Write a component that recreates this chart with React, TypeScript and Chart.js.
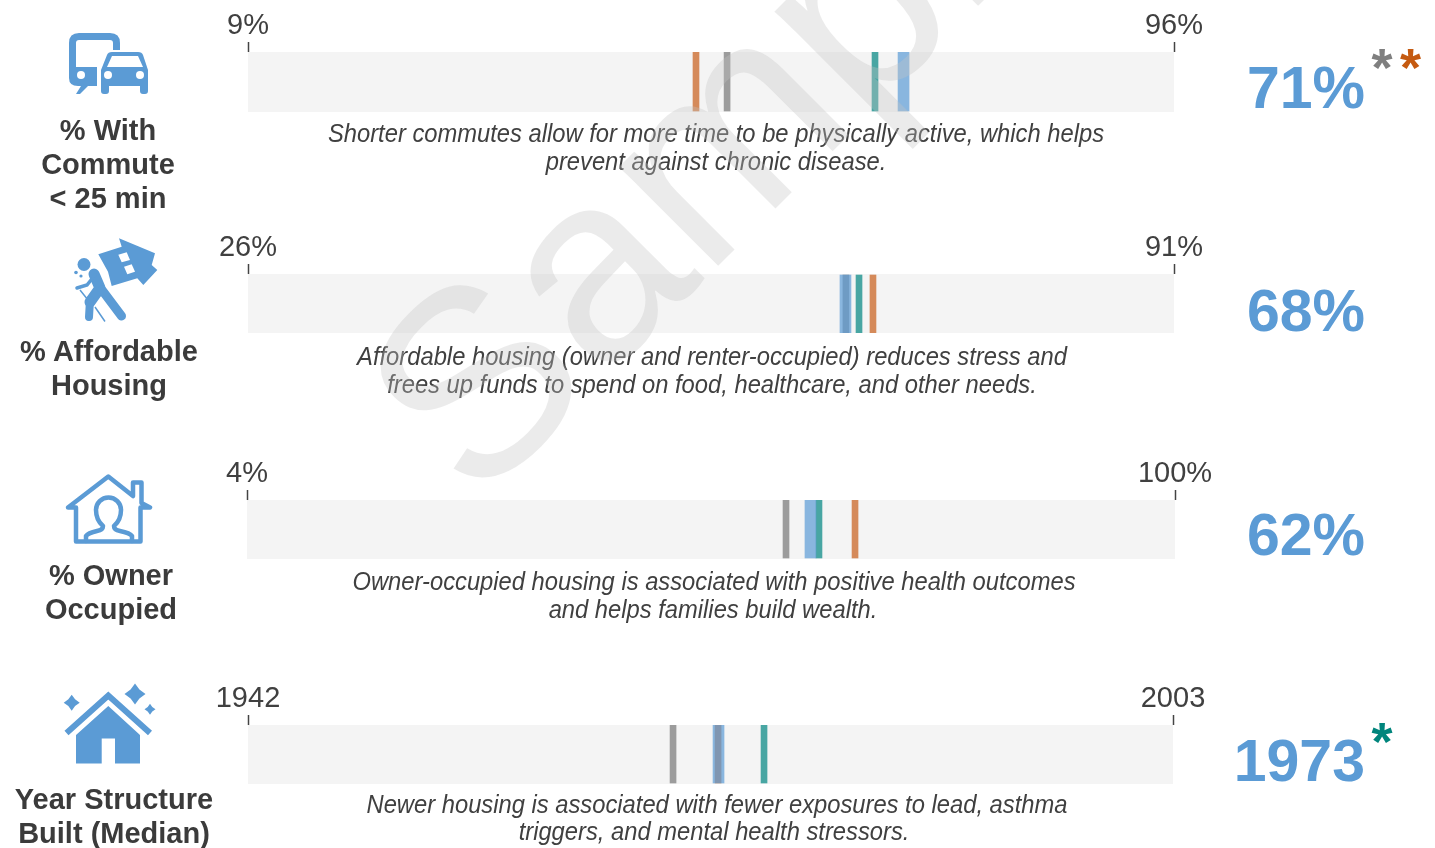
import React, { useEffect, useRef } from "react";
import { Chart, registerables } from "chart.js";

Chart.register(...registerables);

const rangeMins = [9, 26, 4, 1942];
const rangeMaxes = [96, 91, 100, 2003];
const minLabels = ["9%", "26%", "4%", "1942"];
const maxLabels = ["96%", "91%", "100%", "2003"];
const blueMarks = [70.59, 67.94, 62.29, 1973.03];
const tealMarks = [67.91, 68.89, 63.17, 1976.03];
const grayMarks = [54.01, 67.97, 59.76, 1970.03];
const orangeMarks = [51.09, 69.87, 66.9, 1973];
const bigValues = ["71%", "68%", "62%", "1973"];
const headings = [["% With", "Commute", "< 25 min"], ["% Affordable", "Housing"], ["% Owner", "Occupied"], ["Year Structure", "Built (Median)"]];
const notes = [
  ["Shorter commutes allow for more time to be physically active, which helps", "prevent against chronic disease."],
  ["Affordable housing (owner and renter-occupied) reduces stress and", "frees up funds to spend on food, healthcare, and other needs."],
  ["Owner-occupied housing is associated with positive health outcomes", "and helps families build wealth."],
  ["Newer housing is associated with fewer exposures to lead, asthma", "triggers, and mental health stressors."],
];
const markLow = [1 / 60, 0, 1 / 59, 1 / 59];
const markHigh = [1, 58 / 59, 1, 1];

const rowBoxes = [
  { left: 248, right: 1174, top: 52, bottom: 112 },
  { left: 248, right: 1174, top: 274, bottom: 333 },
  { left: 247, right: 1175, top: 500, bottom: 559 },
  { left: 248, right: 1173, top: 725, bottom: 784 },
];
const headingLayout = [
  { cx: 108, y: [130, 164, 198] },
  { cx: 109, y: [351, 385] },
  { cx: 111, y: [575, 609] },
  { cx: 114, y: [799, 833] },
];
const noteLayout = [
  { cx: [716, 715.5], y: [133, 161] },
  { cx: [712, 711.5], y: [356, 384] },
  { cx: [713.5, 712.5], y: [581, 609] },
  { cx: [716.5, 713.5], y: [804, 831] },
];
const bigBaseline = [108, 331, 555, 781];
const stars = [
  { x: 1382, y: 57.5, c: "#7f7f7f" },
  { x: 1410.5, y: 57.5, c: "#c55a11" },
  { x: 1382, y: 732, c: "#00857c" },
];

const HEADER = 52;
const BLUE = "#5b9bd5";

function Strip({ i }: { i: number }) {
  const ref = useRef<HTMLCanvasElement | null>(null);
  const b = rowBoxes[i];
  const h = b.bottom - b.top + HEADER;
  useEffect(() => {
    const lo = markLow[i];
    const hi = markHigh[i];
    const mark = (v: number, color: string, thick: number) => ({
      data: [{ x: v, y: [lo, hi] }],
      backgroundColor: color,
      barThickness: thick,
      grouped: false,
      borderWidth: 0,
    });
    const chart = new Chart(ref.current as HTMLCanvasElement, {
      type: "bar",
      data: {
        datasets: [
          mark(blueMarks[i], "rgba(91,155,213,0.7)", 11),
          mark(tealMarks[i], "#48a6a3", 6),
          mark(orangeMarks[i], "#d58a5a", 6),
          mark(grayMarks[i], "#9c9c9c", 6),
          {
            data: [{ x: (rangeMins[i] + rangeMaxes[i]) / 2, y: [0, 1] }],
            backgroundColor: "#f4f4f4",
            barThickness: b.right - b.left,
            grouped: false,
            borderWidth: 0,
          },
        ] as any,
      },
      options: {
        animation: false,
        responsive: false,
        events: [],
        layout: { padding: { left: b.left, right: 1435 - b.right, top: 0, bottom: 0 } },
        plugins: { legend: { display: false }, tooltip: { enabled: false } },
        scales: {
          x: {
            type: "linear",
            position: "top",
            min: rangeMins[i],
            max: rangeMaxes[i],
            offset: false,
            border: { display: false },
            grid: { offset: false, drawOnChartArea: false, drawTicks: true, tickLength: 10, tickColor: "#444444", tickWidth: 1.5 },
            afterBuildTicks: (s: any) => {
              s.ticks = [{ value: rangeMins[i] }, { value: rangeMaxes[i] }];
            },
            afterFit: (s: any) => {
              s.height = HEADER;
            },
            ticks: {
              autoSkip: false,
              maxRotation: 0,
              padding: -1,
              color: "#404040",
              font: { family: "'Liberation Sans'", size: 29 },
              callback: (v: any) => (v === rangeMins[i] ? minLabels[i] : maxLabels[i]),
            },
          },
          y: { type: "linear", display: false, min: 0, max: 1 },
        },
      } as any,
    });
    return () => chart.destroy();
  }, []);
  return (
    <canvas
      ref={ref}
      width={1435}
      height={h}
      style={{ position: "absolute", left: 0, top: b.top - HEADER, width: 1435, height: h, display: "block" }}
    />
  );
}

function sparkle(cx: number, cy: number, r: number) {
  const k = r * 0.42;
  return `M${cx} ${cy - r}L${cx + k} ${cy - k}L${cx + r} ${cy}L${cx + k} ${cy + k}L${cx} ${cy + r}L${cx - k} ${cy + k}L${cx - r} ${cy}L${cx - k} ${cy - k}Z`;
}

function Icons() {
  return (
    <svg width={1435} height={848} style={{ position: "absolute", left: 0, top: 0 }}>
      <g fill={BLUE}>
        <path d="M69 43Q69 33 79 33H110Q120 33 120 43V50H113V43Q113 40 110 40H79Q76 40 76 43V67H97V86H88L80 94H76L81 86H78Q69 86 69 78Z" />
        <circle cx={81} cy={75} r={4} fill="#fff" />
        <path d="M101 70L107 55Q108 52 112 52H138Q142 52 143 55L148 70V91Q148 94 145 94H143Q140 94 140 91V86H109V91Q109 94 106 94H104Q101 94 101 91Z" />
        <path d="M112 56H138L143 67H107Z" fill="#fff" />
        <circle cx={108} cy={75} r={4} fill="#fff" />
        <circle cx={140} cy={75} r={4} fill="#fff" />
      </g>
      <g fill={BLUE} stroke="none">
        <path d="M98.3 254.3L121.7 246.7L119 238.3L155 253.3L151.7 265L157.3 270L143.3 285L137.3 278.3L111.7 286L108 271.7Z" />
        <path d="M118.3 254.7L126.7 252.3L130 260L121.7 262.3Z" fill="#fff" />
        <path d="M124 266.7L131.7 264.3L135 271.7L127.3 274.3Z" fill="#fff" />
        <circle cx={84} cy={264.5} r={6.5} />
        <circle cx={76} cy={272.5} r={1.8} />
        <circle cx={81} cy={276} r={1.6} />
        <path d="M95 274L102 287" stroke="#fff" strokeWidth={15} strokeLinecap="round" />
        <path d="M94 274L100 288L90 302" stroke={BLUE} strokeWidth={11} strokeLinecap="round" strokeLinejoin="round" fill="none" />
        <path d="M102 290L121.5 316" stroke={BLUE} strokeWidth={9} strokeLinecap="round" fill="none" />
        <path d="M90 300L89 317" stroke={BLUE} strokeWidth={8} strokeLinecap="round" strokeLinejoin="round" fill="none" />
        <path d="M95 275L87 285L77 288" stroke={BLUE} strokeWidth={3.5} strokeLinecap="round" fill="none" />
        <path d="M80 290L88 300M95 307L105 321.5" stroke={BLUE} strokeWidth={1.5} fill="none" />
      </g>
      <g fill="none" stroke={BLUE} strokeWidth={4.5} strokeLinejoin="round" strokeLinecap="round">
        <path d="M68 507.5L108.3 476.5L133 496V482.5H141.5V503L150 507.5H140.5V541.5H76V507.5Z" />
        <path d="M86 541V536Q88 533 97 531Q103 530 103 526Q96 520 96 510A12.5 12.5 0 0 1 121 510Q121 520 114 526Q114 530 120 531Q130 533 132 536V541" />
      </g>
      <g fill={BLUE}>
        <path d="M66.5 733L108.3 695.5L150 733" fill="none" stroke={BLUE} strokeWidth={6} />
        <path d="M108.3 706L140 735V763.5H115V738.5H101.7V763.5H76V735Z" />
        <path d={sparkle(71.7, 702.7, 8)} />
        <path d={sparkle(135, 694, 10.5)} />
        <path d={sparkle(150, 709.3, 5.5)} />
      </g>
    </svg>
  );
}

const abs = (x: number, y: number): React.CSSProperties => ({
  position: "absolute",
  left: x,
  top: y,
  transform: "translate(-50%,-50%)",
  whiteSpace: "nowrap",
  lineHeight: 1,
});

export default function App() {
  useEffect(() => {
    document.body.style.margin = "0";
  }, []);
  return (
    <div style={{ position: "relative", width: 1435, height: 848, overflow: "hidden", fontFamily: "'Liberation Sans', Arial, sans-serif", background: "#fff" }}>
      {rowBoxes.map((_, i) => (
        <Strip key={i} i={i} />
      ))}
      <Icons />
      {headings.map((lines, i) =>
        lines.map((t, j) => (
          <div key={t} style={{ ...abs(headingLayout[i].cx, headingLayout[i].y[j]), fontSize: 29, fontWeight: 700, color: "#3b3b3b" }}>
            {t}
          </div>
        ))
      )}
      {notes.map((lines, i) =>
        lines.map((t, j) => (
          <div key={t} style={{ ...abs(noteLayout[i].cx[j], noteLayout[i].y[j]), transform: "translate(-50%,-50%) scaleX(0.95)", fontSize: 25, fontStyle: "italic", color: "#404040" }}>
            {t}
          </div>
        ))
      )}
      {bigValues.map((t, i) => (
        <div
          key={t}
          style={{ position: "absolute", right: 1435 - 1365, top: bigBaseline[i] - 54, fontSize: 59, lineHeight: "68px", fontWeight: 700, color: BLUE, whiteSpace: "nowrap" }}
        >
          {t}
        </div>
      ))}
      {stars.map((s, i) => (
        <div key={i} style={{ ...abs(s.x, s.y + 9), fontSize: 54, fontWeight: 700, color: s.c }}>
          *
        </div>
      ))}
      <div
        style={{
          position: "absolute",
          left: 476,
          top: 508,
          transformOrigin: "0 0",
          transform: "rotate(-45deg) translateY(-242px)",
          fontSize: 265,
          lineHeight: "300px",
          color: "rgba(195,195,195,0.34)",
          whiteSpace: "nowrap",
          pointerEvents: "none",
        }}
      >
        Sample
      </div>
    </div>
  );
}
